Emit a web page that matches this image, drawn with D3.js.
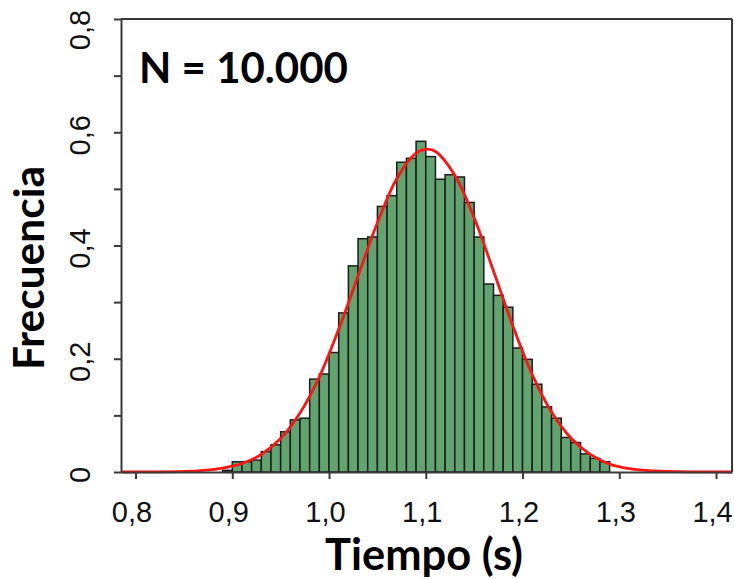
<!DOCTYPE html>
<html>
<head>
<meta charset="utf-8">
<script src="https://cdn.jsdelivr.net/npm/d3@7"></script>
<style>
  html, body { margin: 0; padding: 0; background: #fff; }
  svg { display: block; }
</style>
</head>
<body>
<svg id="chart" width="734" height="579"></svg>
<script>
// ---- data ----
const binLeft = [0.89, 0.90, 0.91, 0.92, 0.93, 0.94, 0.95, 0.96, 0.97, 0.98, 0.99,
                 1.00, 1.01, 1.02, 1.03, 1.04, 1.05, 1.06, 1.07, 1.08, 1.09,
                 1.10, 1.11, 1.12, 1.13, 1.14, 1.15, 1.16, 1.17, 1.18, 1.19,
                 1.20, 1.21, 1.22, 1.23, 1.24, 1.25, 1.26, 1.27, 1.28];
const binWidth = 0.01;
const frequency = [0.003, 0.018, 0.018, 0.021, 0.036, 0.048, 0.071, 0.092, 0.095, 0.164, 0.173,
                   0.211, 0.281, 0.364, 0.412, 0.415, 0.469, 0.488, 0.547, 0.554, 0.584,
                   0.557, 0.517, 0.525, 0.521, 0.476, 0.415, 0.332, 0.312, 0.291, 0.219,
                   0.199, 0.155, 0.115, 0.095, 0.061, 0.052, 0.032, 0.024, 0.018];
const curveX = [0.785, 0.82, 0.85, 0.87, 0.89, 0.91, 0.93, 0.95, 0.97, 0.99, 1.01, 1.03, 1.05,
                1.07, 1.09, 1.10, 1.11, 1.13, 1.15, 1.17, 1.19, 1.21, 1.23, 1.25, 1.27, 1.29,
                1.31, 1.33, 1.36, 1.40, 1.4165];
const curveY = [0, 0.0002, 0.001, 0.003, 0.007, 0.015, 0.031, 0.059, 0.104, 0.168, 0.252, 0.346, 0.440,
                0.518, 0.563, 0.570, 0.566, 0.524, 0.449, 0.355, 0.258, 0.172, 0.106, 0.060, 0.031, 0.014,
                0.006, 0.0025, 0.0006, 0.0001, 0];
const xTicks = [0.8, 0.9, 1.0, 1.1, 1.2, 1.3, 1.4];
const xTickLabels = ["0,8", "0,9", "1,0", "1,1", "1,2", "1,3", "1,4"];
const yTicks = [0, 0.1, 0.2, 0.3, 0.4, 0.5, 0.6, 0.7, 0.8];
const yLabelValues = [0, 0.2, 0.4, 0.6, 0.8];
const yTickLabels = ["0", "0,2", "0,4", "0,6", "0,8"];
const annotation = "N = 10.000";
const xTitle = "Tiempo (s)";
const yTitle = "Frecuencia";

// ---- layout ----
const L = 121, R = 732, T = 19, B = 472;
const svg = d3.select("#chart");
const x = d3.scaleLinear().domain([0.785, 1.4165]).range([L, R]);
const y = d3.scaleLinear().domain([0, 0.8]).range([B, T]);
const axisColor = "#3a3a3a";

// bars
const bars = binLeft.map((b, i) => ({ x0: b, x1: b + binWidth, v: frequency[i] }));
svg.append("g").selectAll("rect").data(bars).join("rect")
  .attr("x", d => x(d.x0))
  .attr("y", d => y(d.v))
  .attr("width", d => x(d.x1) - x(d.x0))
  .attr("height", d => y(0) - y(d.v))
  .attr("fill", "#62a470")
  .attr("stroke", "#1c1c1c")
  .attr("stroke-width", 1.5);

// fitted curve
const line = d3.line().x(d => x(d[0])).y(d => y(d[1])).curve(d3.curveCatmullRom.alpha(0.5));
svg.append("path")
  .datum(curveX.map((cx, i) => [cx, curveY[i]]))
  .attr("d", line)
  .attr("fill", "none")
  .attr("stroke", "#ff1414")
  .attr("stroke-width", 2.8);

// frame top / right
svg.append("line").attr("x1", L).attr("x2", R).attr("y1", T).attr("y2", T)
  .attr("stroke", axisColor).attr("stroke-width", 2);
svg.append("line").attr("x1", R).attr("x2", R).attr("y1", T).attr("y2", B)
  .attr("stroke", axisColor).attr("stroke-width", 2);

// x axis
const gx = svg.append("g").attr("transform", `translate(0,${B})`)
  .call(d3.axisBottom(x).tickValues(xTicks).tickSize(7).tickSizeOuter(0)
    .tickFormat((d, i) => xTickLabels[i]));
gx.select(".domain").attr("stroke", axisColor).attr("stroke-width", 2);
gx.selectAll(".tick line").attr("stroke", axisColor).attr("stroke-width", 2);
gx.selectAll(".tick text")
  .attr("font-family", "'Liberation Sans', Arial, sans-serif")
  .attr("font-size", 29).attr("fill", "#111")
  .attr("dy", null).attr("y", 50).attr("x", -4);

// y axis
const gy = svg.append("g").attr("transform", `translate(${L},0)`)
  .call(d3.axisLeft(y).tickValues(yTicks).tickSize(7).tickSizeOuter(0).tickFormat(""));
gy.select(".domain").attr("stroke", axisColor).attr("stroke-width", 2);
gy.selectAll(".tick line").attr("stroke", axisColor).attr("stroke-width", 2);

svg.append("g").selectAll("text").data(yLabelValues).join("text")
  .attr("transform", (d, i) => {
    let cy = y(d) + 3;
    if (i === yLabelValues.length - 1) cy = y(d) + 11;
    return `translate(90,${cy}) rotate(-90)`;
  })
  .attr("text-anchor", "middle")
  .attr("font-family", "'Liberation Sans', Arial, sans-serif")
  .attr("font-size", 29).attr("fill", "#111")
  .text((d, i) => yTickLabels[i]);

// bold texts, fitted to the measured width
function fit(sel, target) {
  const w = sel.node().getComputedTextLength();
  const fs = parseFloat(sel.attr("font-size"));
  sel.attr("font-size", fs * target / w);
}
const boldFont = "Lato, 'Open Sans', sans-serif";

const ann = svg.append("text").attr("x", 139).attr("y", 83)
  .attr("font-family", boldFont).attr("font-weight", 700).attr("font-size", 40)
  .attr("fill", "#000").text(annotation);
fit(ann, 209);

const xt = svg.append("text").attr("x", 424).attr("y", 570)
  .attr("text-anchor", "middle")
  .attr("font-family", boldFont).attr("font-weight", 700).attr("font-size", 40)
  .attr("fill", "#000").text(xTitle);
fit(xt, 198);

const yt = svg.append("text").attr("transform", "translate(44,268) rotate(-90)")
  .attr("text-anchor", "middle")
  .attr("font-family", boldFont).attr("font-weight", 700).attr("font-size", 40)
  .attr("fill", "#000").text(yTitle);
fit(yt, 204);
</script>
</body>
</html>
